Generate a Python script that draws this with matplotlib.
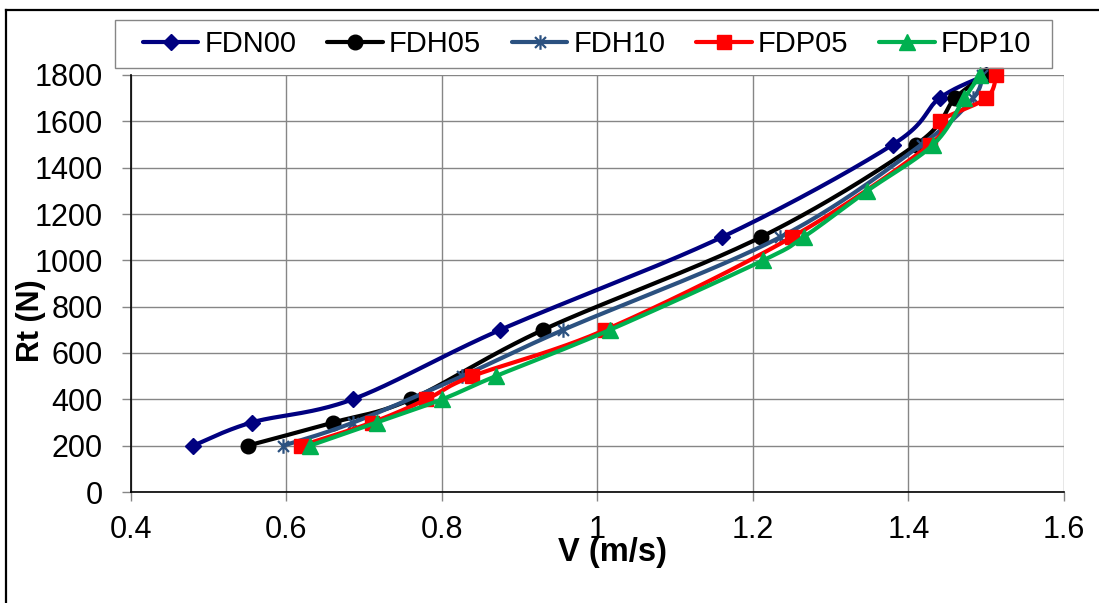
import numpy as np
import matplotlib
matplotlib.use("Agg")
import matplotlib.pyplot as plt
from matplotlib.path import Path
from matplotlib.lines import Line2D
from matplotlib.patches import Rectangle

plt.rcParams['font.family'] = ['Liberation Sans', 'DejaVu Sans']

# ---- data ----
series_names = ["FDN00", "FDH05", "FDH10", "FDP05", "FDP10"]

v_fdn00 = [0.48, 0.555, 0.685, 0.875, 1.16, 1.38, 1.44, 1.50]
rt_fdn00 = [200, 300, 400, 700, 1100, 1500, 1700, 1800]

v_fdh05 = [0.55, 0.66, 0.76, 0.93, 1.21, 1.41, 1.46, 1.50]
rt_fdh05 = [200, 300, 400, 700, 1100, 1500, 1700, 1800]

v_fdh10 = [0.596, 0.686, 0.826, 0.956, 1.235, 1.417, 1.483, 1.495]
rt_fdh10 = [200, 300, 500, 700, 1100, 1500, 1700, 1800]

v_fdp05 = [0.619, 0.71, 0.78, 0.839, 1.01, 1.25, 1.428, 1.44, 1.50, 1.513]
rt_fdp05 = [200, 300, 400, 500, 700, 1100, 1500, 1600, 1700, 1800]

v_fdp10 = [0.63, 0.716, 0.80, 0.869, 1.016, 1.213, 1.265, 1.347, 1.432, 1.472, 1.492]
rt_fdp10 = [200, 300, 400, 500, 700, 1000, 1100, 1300, 1500, 1700, 1800]

x_ticks = [0.4, 0.6, 0.8, 1.0, 1.2, 1.4, 1.6]
x_tick_labels = ["0.4", "0.6", "0.8", "1", "1.2", "1.4", "1.6"]
y_ticks = [0, 200, 400, 600, 800, 1000, 1200, 1400, 1600, 1800]

# ---- styles ----
star_path = Path([(0, -1), (0, 1), (-0.75, -0.75), (0.75, 0.75), (-0.75, 0.75), (0.75, -0.75)],
                 [Path.MOVETO, Path.LINETO] * 3)
styles = [
    dict(color="#000080", marker="D", ms=8),
    dict(color="#000000", marker="o", ms=10.5),
    dict(color="#2B5180", marker=star_path, ms=10.5, mew=1.6),
    dict(color="#FF0000", marker="s", ms=10.5),
    dict(color="#00B050", marker="^", ms=11.5),
]


def excel_smooth(x, y, n=40):
    P = np.column_stack([x, y]).astype(float)
    out = []
    marks = []
    for i in range(len(P) - 1):
        p0 = P[i - 1] if i > 0 else P[i]
        p1 = P[i]
        p2 = P[i + 1]
        p3 = P[i + 2] if i + 2 < len(P) else P[i + 1]
        c1 = p1 + (p2 - p0) / 6.0
        c2 = p2 - (p3 - p1) / 6.0
        t = np.linspace(0, 1, n, endpoint=False)[:, None]
        seg = ((1 - t) ** 3) * p1 + 3 * ((1 - t) ** 2) * t * c1 + 3 * (1 - t) * t ** 2 * c2 + t ** 3 * p2
        marks.append(len(out))
        out.extend(seg.tolist())
    marks.append(len(out))
    out.append(P[-1].tolist())
    out = np.array(out)
    return out[:, 0], out[:, 1], marks


W, H = 1099, 603
fig = plt.figure(figsize=(W / 100, H / 100), dpi=100)
ax = fig.add_axes([131 / W, 1 - 492 / H, (1064 - 131) / W, (492 - 75) / H])

data = [(v_fdn00, rt_fdn00), (v_fdh05, rt_fdh05), (v_fdh10, rt_fdh10),
        (v_fdp05, rt_fdp05), (v_fdp10, rt_fdp10)]

handles = []
for name, (vx, ry), st in zip(series_names, data, styles):
    sx, sy, marks = excel_smooth(vx, ry)
    ln, = ax.plot(sx, sy, color=st["color"], lw=3.0, marker=st["marker"], ms=st["ms"],
                  markevery=marks, mfc=st["color"], mec=st["color"], mew=st.get("mew", 1.0),
                  label=name, solid_capstyle="round", zorder=3, clip_on=False)
    handles.append(ln)

ax.set_xlim(0.4, 1.6)
ax.set_ylim(0, 1800)
ax.set_xticks(x_ticks)
ax.set_xticklabels(x_tick_labels)
ax.set_yticks(y_ticks)
ax.grid(True, color="#868686", lw=1.0, zorder=0)
ax.set_axisbelow(True)
for s in ["top", "right"]:
    ax.spines[s].set_visible(False)
for s in ["left", "bottom"]:
    ax.spines[s].set_color("black")
    ax.spines[s].set_linewidth(1.2)
ax.tick_params(axis="both", direction="out", length=6.5, width=1.0, color="#868686",
               labelsize=22, labelcolor="black")
ax.tick_params(axis="y", pad=14)
ax.tick_params(axis="x", pad=10)

fig.text(612 / W, 1 - 553 / H, "V (m/s)", ha="center", va="center", fontsize=23.5, fontweight="bold")
fig.text(31 / W, 1 - 321 / H, "Rt (N)", ha="center", va="center", rotation=90, fontsize=22,
         fontweight="bold")

leg = fig.legend(handles=handles, loc="center", bbox_to_anchor=((147 + 1027) / 2 / W, 1 - 44 / H),
                 ncol=5, fontsize=21, frameon=False,
                 handlelength=1.9, handletextpad=0.2, columnspacing=1.07,
                 borderpad=0.3, borderaxespad=0)

# legend box
fig.add_artist(Rectangle((115 / W, 1 - 68 / H), (1052 - 115) / W, (68 - 20) / H,
                         transform=fig.transFigure, fill=False, edgecolor="#868686", lw=1.0))

# outer chart frame
fig.add_artist(Line2D([6 / W, 6 / W], [0, 1 - 10 / H], transform=fig.transFigure, color="black", lw=1.6))
fig.add_artist(Line2D([6 / W, 1], [1 - 10 / H, 1 - 10 / H], transform=fig.transFigure, color="black", lw=1.6))

fig.savefig("out.png", dpi=100)
